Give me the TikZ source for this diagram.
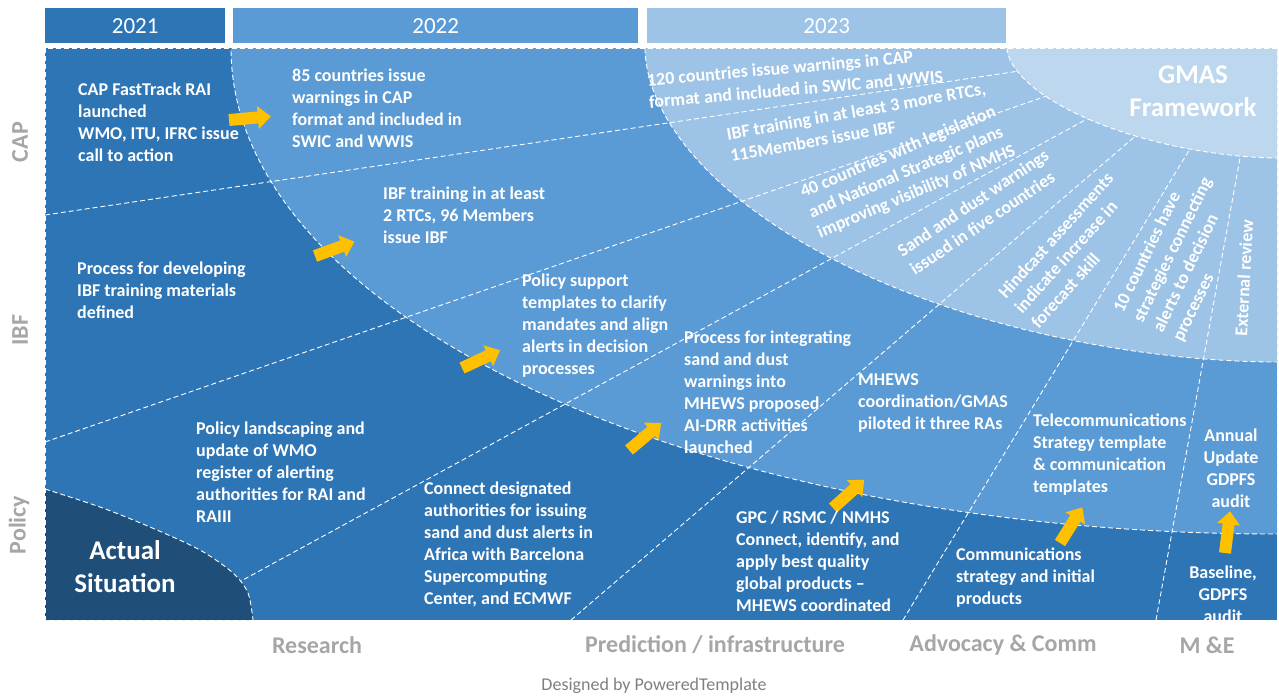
\documentclass[tikz,border=0pt]{standalone}
\usepackage{fontspec}
\setmainfont{Carlito}
\definecolor{bandA}{HTML}{2E75B6}
\definecolor{bandB}{HTML}{5B9BD5}
\definecolor{bandC}{HTML}{9DC3E6}
\definecolor{bandD}{HTML}{BDD7EE}
\definecolor{navy}{HTML}{1F4E79}
\definecolor{amber}{HTML}{FFC000}
\definecolor{lbl}{HTML}{A6A6A6}
\definecolor{credit}{HTML}{7F7F7F}
\tikzset{
  dashline/.style={white, line width=0.9pt, dash pattern=on 5pt off 3pt},
  txt/.style={text=white, font=\bfseries\fontsize{18}{22}\selectfont, align=left, anchor=west, inner sep=0pt},
  ctxt/.style={text=white, font=\bfseries\fontsize{18}{22}\selectfont, align=center, anchor=center, inner sep=0pt},
  rtxt/.style={text=white, font=\bfseries\fontsize{18}{22}\selectfont, align=left, anchor=center, inner sep=0pt},
  bigtxt/.style={text=white, font=\bfseries\fontsize{27}{33}\selectfont, align=center, anchor=center, inner sep=0pt},
  axislabel/.style={text=lbl, font=\bfseries\fontsize{24}{28}\selectfont, inner sep=0pt, anchor=center},
  yearbar/.style={anchor=north west, minimum height=35pt, inner sep=0pt, text=white, font=\fontsize{23}{27}\selectfont},
  blockarrow/.pic={\fill[amber] (0,-6) -- (29,-6) -- (29,-11.5) -- (42,0) -- (29,11.5) -- (29,6) -- (0,6) -- cycle;}
}
\begin{document}
\begin{tikzpicture}[x=1pt,y=-1pt]
\useasboundingbox (0,0) rectangle (1279,697);
% year bars
\node[yearbar, fill=bandA, minimum width=180pt] (y2021) at (45,8) {2021};
\node[yearbar, fill=bandB, minimum width=405pt] (y2022) at (233,8) {2022};
\node[yearbar, fill=bandC, minimum width=359pt] (y2023) at (647,8) {2023};
% bands
\begin{scope}
\clip (45,48) rectangle (1277,620);
\fill[bandA] (45,48) rectangle (1277,620);
\fill[bandB] (1277,48) ellipse [x radius=1046, y radius=486];
\fill[bandC] (1277,48) -- plot[domain=0.01:89.99, samples=90, smooth] ({1277-632*cos(\x)^1.081}, {48+314*sin(\x)^1.081}) -- cycle;
\draw[dashline] (1277,48) ellipse [x radius=1046, y radius=486];
\draw[dashline] plot[domain=0.01:89.99, samples=90, smooth] ({1277-632*cos(\x)^1.081}, {48+314*sin(\x)^1.081});
% radial lines
\coordinate (l1a) at (45,215);   \coordinate (l1b) at (1060,65);
\coordinate (l2a) at (45,442);   \coordinate (l2b) at (1090,81);
\coordinate (l3a) at (230,587);  \coordinate (l3b) at (1120,101);
\coordinate (l4a) at (571,620);  \coordinate (l4b) at (1160,115);
\coordinate (l5a) at (903,620);  \coordinate (l5b) at (1210,116);
\coordinate (l6a) at (1156,620); \coordinate (l6b) at (1248,114);
\draw[dashline] (l1a) -- (l1b);
\draw[dashline] (l2a) -- (l2b);
\draw[dashline] (l3a) -- (l3b);
\draw[dashline] (l4a) -- (l4b);
\draw[dashline] (l5a) -- (l5b);
\draw[dashline] (l6a) -- (l6b);
% GMAS
\fill[bandD] (1277,48) -- plot[domain=0.01:89.99, samples=90, smooth] ({1277-270*cos(\x)^1.143}, {48+110*sin(\x)^1.143}) -- cycle;
\draw[dashline] plot[domain=0.01:89.99, samples=90, smooth] ({1277-270*cos(\x)^1.143}, {48+110*sin(\x)^1.143});
% actual situation
\fill[navy] (45,620) -- plot[smooth] coordinates {(45,489) (100,507) (150,527) (200,550) (233,573) (248,593) (253,620)} -- cycle;
\draw[dashline] plot[smooth] coordinates {(45,489) (100,507) (150,527) (200,550) (233,573) (248,593) (253,620)};
\end{scope}
\draw[dashline] (45,48) rectangle (1277,620);
% arrows
\pic[rotate=5] at (229,120) {blockarrow};
\pic[rotate=20] at (315,256) {blockarrow};
\pic[rotate=25] at (462,368) {blockarrow};
\pic[rotate=40] at (629,450) {blockarrow};
\pic[rotate=42] at (833,508) {blockarrow};
\pic[rotate=58] at (1060,543) {blockarrow};
\pic[rotate=83] at (1225,553) {blockarrow};
% 2021 texts
\node[txt] (t1) at (78,122) {CAP FastTrack RAI\\launched\\WMO, ITU, IFRC issue\\call to action};
\node[txt] (t2) at (77,290) {Process for developing\\IBF training materials\\defined};
\node[txt] (t3) at (196,472) {Policy landscaping and\\update of WMO\\register of alerting\\authorities for RAI and\\RAIII};
\node[txt] (t4) at (424,544) {Connect designated\\authorities for issuing\\sand and dust alerts in\\Africa with Barcelona\\Supercomputing\\Center, and ECMWF};
\node[txt] (t5) at (736,561) {GPC / RSMC / NMHS\\Connect, identify, and\\apply best quality\\global products --\\MHEWS coordinated};
\node[txt] (t6) at (956,578) {Communications\\strategy and initial\\products};
\node[ctxt] (t7) at (1223,594) {Baseline,\\GDPFS\\audit};
% 2022 texts
\node[txt] (t8) at (292,108) {85 countries issue\\warnings in CAP\\format and included in\\SWIC and WWIS};
\node[txt] (t9) at (383,215) {IBF training in at least\\2 RTCs, 96 Members\\issue IBF};
\node[txt] (t10) at (522,326) {Policy support\\templates to clarify\\mandates and align\\alerts in decision\\processes};
\node[txt] (t11) at (684,392) {Process for integrating\\sand and dust\\warnings into\\MHEWS proposed\\AI-DRR activities\\launched};
\node[txt] (t12) at (858,403) {MHEWS\\coordination/GMAS\\piloted it three RAs};
\node[txt] (t13) at (1033,455) {Telecommunications\\Strategy template\\\& communication\\templates};
\node[ctxt] (t14) at (1231,468) {Annual\\Update\\GDPFS\\audit};
% 2023 texts
\node[rtxt, rotate=5] (t15) at (795,78) {120 countries issue warnings in CAP\\format and included in SWIC and WWIS};
\node[rtxt, rotate=10] (t16) at (858,122) {IBF training in at least 3 more RTCs,\\115Members issue IBF};
\node[rtxt, rotate=23] (t17) at (908,172) {40 countries with legislation\\and National Strategic plans\\improving visibility of NMHS};
\node[rtxt, rotate=34] (t18) at (979,212) {Sand and dust warnings\\issued in five countries};
\node[rtxt, rotate=48] (t19) at (1072,250) {Hindcast assessments\\indicate increase in\\forecast skill};
\node[rtxt, rotate=64] (t20) at (1183,255) {10 countries have\\strategies connecting\\alerts to decision\\processes};
\node[rtxt, rotate=87] (t21) at (1244,278) {External review};
% big labels
\node[bigtxt] (gmas) at (1193,91) {GMAS\\Framework};
\node[bigtxt] (actual) at (125,567) {Actual\\Situation};
% axis labels
\node[axislabel, rotate=90] (rcap) at (20,142) {CAP};
\node[axislabel, rotate=90] (ribf) at (20,330) {IBF};
\node[axislabel, rotate=90] (rpol) at (19,525) {Policy};
\node[axislabel] (cres) at (317,645) {Research};
\node[axislabel] (cpred) at (715,645) {Prediction / infrastructure};
\node[axislabel] (cadv) at (1003,645) {Advocacy \& Comm};
\node[axislabel] (cme) at (1207,645) {M \&E};
\node[text=credit, font=\fontsize{18}{21}\selectfont, inner sep=0pt] (credit) at (654,686) {Designed by PoweredTemplate};
\end{tikzpicture}
\end{document}
